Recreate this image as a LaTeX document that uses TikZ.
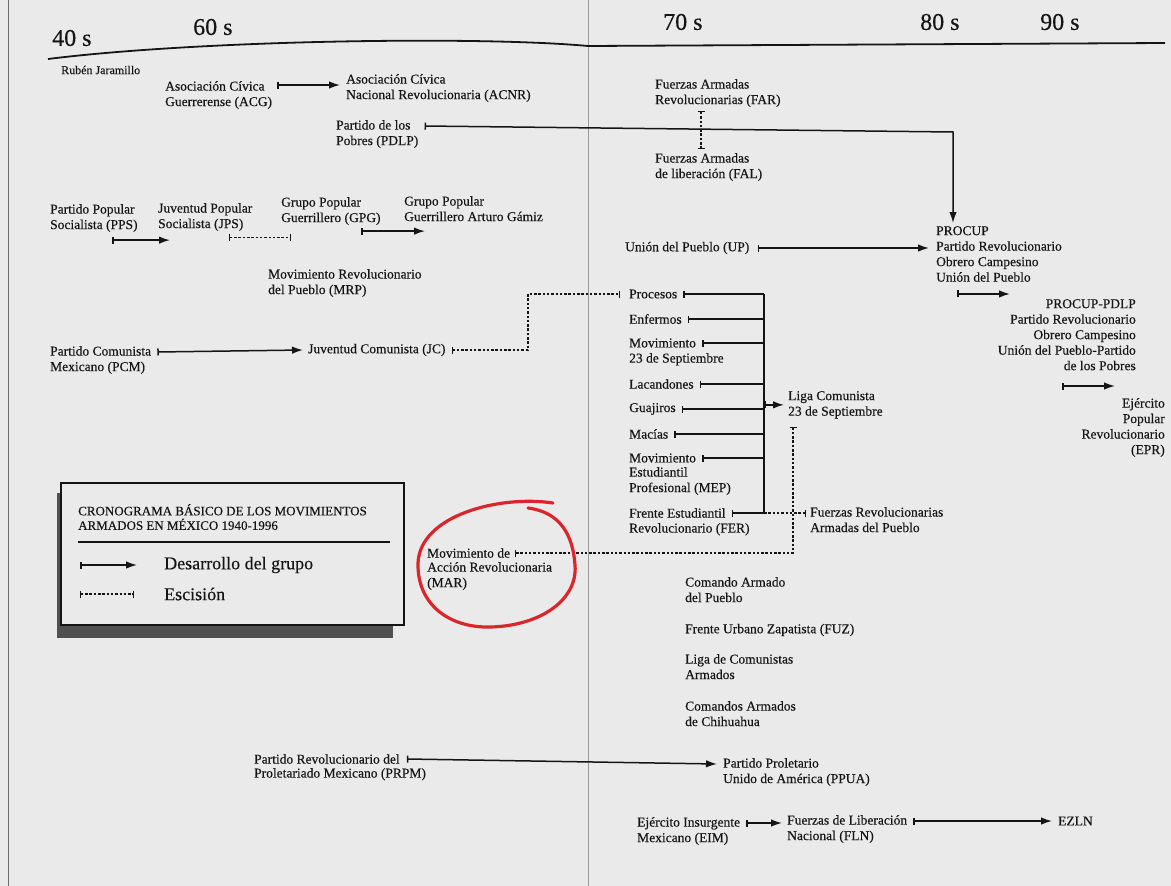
\documentclass[tikz,border=0pt]{standalone}
\usepackage{fontspec}
\setmainfont{Liberation Serif}
\newfontfamily\inkfont{Liberation Serif}[FakeBold=0.35]
\usepackage{xcolor}
\definecolor{ink}{HTML}{151515}
\definecolor{paper}{HTML}{EAEAEA}
\definecolor{foldgray}{HTML}{9A9A9A}
\definecolor{boxshade}{HTML}{505050}
\definecolor{redpen}{HTML}{D9262B}
\usetikzlibrary{arrows.meta,positioning,calc}
\tikzset{
  txt/.style={inner sep=0pt,anchor=north west,align=left,text=ink,font=\inkfont\fontsize{13.5}{15.5}\selectfont},
  rtxt/.style={txt,anchor=north east,align=right},
  one/.style={txt,anchor=west},
  decade/.style={inner sep=0pt,anchor=west,text=ink,font=\inkfont\fontsize{24}{26}\selectfont},
  dev/.style={{Bar[width=7pt]}-{Latex[length=11pt,width=7.5pt]},draw=ink,line width=1.5pt},
  feed/.style={{Bar[width=7pt]}-,draw=ink,line width=1.5pt},
  esc/.style={{Bar[width=7pt]}-{Bar[width=7pt]},draw=ink,line width=1.1pt,dash pattern=on 2.5pt off 1.8pt},
  escend/.style={esc,arrows=-{Bar[width=7pt]}},
}
\begin{document}
\begin{tikzpicture}[x=1pt,y=-1pt]
\useasboundingbox (0,0) rectangle (1171,886);
\fill[fill=paper] (0,0) rectangle (1171,886);
\draw[draw=foldgray,line width=0.8pt] (588,0) -- (588,886);
\draw[draw=foldgray!70!black,line width=0.8pt] (8,0) -- (8,886);
\draw[draw=ink,line width=1.8pt] (48,59) .. controls (200,40) and (480,36) .. (588,46) -- (1165,43);

\node[decade] (d40) at (52,38) {40 s};
\node[decade] (d60) at (193,27) {60 s};
\node[decade] (d70) at (663,22) {70 s};
\node[decade] (d80) at (920,22) {80 s};
\node[decade] (d90) at (1040,22) {90 s};

\node[one,font=\inkfont\fontsize{12}{14}\selectfont] (ruben) at (61,70) {Rubén Jaramillo};
\node[txt] (acg) at (165,81) {Asociación Cívica\\Guerrerense (ACG)};
\node[txt] (acnr) at (346,74) {Asociación Cívica\\Nacional Revolucionaria (ACNR)};
\node[txt] (pdlp) at (336,120) {Partido de los\\Pobres (PDLP)};
\node[txt] (far) at (655,79) {Fuerzas Armadas\\Revolucionarias (FAR)};
\node[txt] (fal) at (655,153) {Fuerzas Armadas\\de liberación (FAL)};

\node[txt] (pps) at (50,204) {Partido Popular\\Socialista (PPS)};
\node[txt] (jps) at (158,203) {Juventud Popular\\Socialista (JPS)};
\node[txt] (gpg) at (281,197) {Grupo Popular\\Guerrillero (GPG)};
\node[txt] (gpgag) at (404,196) {Grupo Popular\\Guerrillero Arturo Gámiz};
\node[txt] (mrp) at (268,269) {Movimiento Revolucionario\\del Pueblo (MRP)};
\node[txt] (pcm) at (50,346) {Partido Comunista\\Mexicano (PCM)};
\node[one] (jc) at (308,350) {Juventud Comunista (JC)};

\node[one] (up) at (625,248) {Unión del Pueblo (UP)};
\node[txt] (procup) at (936,226) {PROCUP\\Partido Revolucionario\\Obrero Campesino\\Unión del Pueblo};
\node[rtxt] (procuppdlp) at (1136,299) {PROCUP-PDLP\\Partido Revolucionario\\Obrero Campesino\\Unión del Pueblo-Partido\\de los Pobres};
\node[rtxt] (epr) at (1165,398) {Ejército\\Popular\\Revolucionario\\(EPR)};

\node[one] (procesos) at (629,294) {Procesos};
\node[one] (enfermos) at (629,319) {Enfermos};
\node[one] (mov23) at (629,343) {Movimiento};
\node[txt] (mov23b) at (629,353) {23 de Septiembre};
\node[one] (lacandones) at (629,384) {Lacandones};
\node[one] (guajiros) at (629,409) {Guajiros};
\node[one] (macias) at (629,434) {Macías};
\node[one] (mep) at (629,458) {Movimiento};
\node[txt] (mepb) at (629,467) {Estudiantil\\Profesional (MEP)};
\node[one] (fer) at (629,513) {Frente Estudiantil};
\node[txt] (ferb) at (629,523) {Revolucionario (FER)};
\node[txt] (liga) at (788,391) {Liga Comunista\\23 de Septiembre};
\node[txt] (frap) at (810,507) {Fuerzas Revolucionarias\\Armadas del Pueblo};

\node[one] (mar) at (427,553) {Movimiento de};
\node[txt] (marb) at (427,562) {Acción Revolucionaria\\(MAR)};

\node[txt] (cap) at (685,577) {Comando Armado\\del Pueblo};
\node[one] (fuz) at (685,630) {Frente Urbano Zapatista (FUZ)};
\node[txt] (lca) at (685,654) {Liga de Comunistas\\Armados};
\node[txt] (cach) at (685,701) {Comandos Armados\\de Chihuahua};

\node[one] (prpm) at (254,759) {Partido Revolucionario del};
\node[txt] (prpmb) at (254,768) {Proletariado Mexicano (PRPM)};
\node[txt] (ppua) at (723,758) {Partido Proletario\\Unido de América (PPUA)};
\node[txt] (eim) at (637,817) {Ejército Insurgente\\Mexicano (EIM)};
\node[txt] (fln) at (787,815) {Fuerzas de Liberación\\Nacional (FLN)};
\node[one] (ezln) at (1058,821) {EZLN};

\coordinate (spine) at (764,294);

\draw[dev] ([shift={(5,4)}]acg.north east) -- ($(acg.north east -| acnr.west)+(-6,4)$);
\draw[dev] ([shift={(6,6)}]pdlp.north east) -- ([shift={(17,-94)}]procup.north west) -- ([shift={(17,-3)}]procup.north west);
\draw[esc] ([shift={(46,4)}]far.south west) -- ([shift={(46,-4)}]fal.north west);
\draw[dev] ([shift={(62,8)}]pps.south west) -- ($(pps.south west -| jps.west)+(12,8)$);
\draw[esc] ([shift={(71,6)}]jps.south west) -- ($(jps.south west -| gpg.west)+(10,6)$);
\draw[dev] ([shift={(80,6)}]gpg.south west) -- ($(gpg.south west -| gpgag.west)+(21,6)$);
\draw[dev] ([shift={(6,6)}]pcm.north east) -- ([xshift=-5pt]jc.west);
\draw[esc] ([xshift=6pt]jc.east) -| ([xshift=-101pt]procesos.west) -- ([xshift=-9pt]procesos.west);
\draw[dev] ([xshift=8pt]up.east) -- ($(up.east -| procup.west)+(-7,0)$);
\draw[dev] ([shift={(21,12)}]procup.south west) -- ([shift={(74,12)}]procup.south west);
\draw[dev] ($(epr.north east)+(-103,-12)$) -- ($(epr.north east)+(-50,-12)$);

\foreach \n in {procesos,enfermos,mov23,lacandones,guajiros,macias,mep,fer}
  \draw[feed] ([xshift=6pt]\n.east) -- (\n.east -| spine);
\draw[draw=ink,line width=1.5pt] (procesos.east -| spine) -- (fer.east -| spine);
\draw[dev] (liga.west -| spine) -- ([xshift=-4pt]liga.west);
\draw[escend] (fer.east -| spine) -- ($(fer.east -| frap.west)+(-4,0)$);
\draw[esc] ([shift={(5,8)}]liga.south west) |- ([xshift=5pt]mar.east);

\draw[dev] ([xshift=7pt]prpm.east) -- ([shift={(-6,6)}]ppua.north west);
\draw[dev] ([shift={(6,6)}]eim.north east) -- ($(eim.north east -| fln.west)+(-5,6)$);
\draw[dev] ([shift={(6,6)}]fln.north east) -- ([xshift=-6pt]ezln.west);

\fill[fill=boxshade] (57,493) rectangle (393,638);
\draw[draw=ink,fill=paper,line width=1.5pt] (61,483) rectangle (404,625);
\node[txt,font=\inkfont\fontsize{13}{14.5}\selectfont] (ttl) at (78,504) {CRONOGRAMA BÁSICO DE LOS MOVIMIENTOS\\ARMADOS EN MÉXICO 1940-1996};
\draw[draw=ink,line width=1.8pt] (78,542) -- (390,542);
\node[one,font=\inkfont\fontsize{18}{20}\selectfont] (devkey) at (164,565) {Desarrollo del grupo};
\node[one,font=\inkfont\fontsize{18}{20}\selectfont] (esckey) at (164,594) {Escisión};
\draw[dev] ([xshift=-84pt]devkey.west) -- ([xshift=-27pt]devkey.west);
\draw[esc] ([xshift=-84pt]esckey.west) -- ([xshift=-30pt]esckey.west);

\draw[draw=redpen,line width=3.2pt,line cap=round] (553,503) .. controls (500,495) and (420,515) .. (418,563) .. controls (417,605) and (450,628) .. (490,627) .. controls (540,626) and (578,600) .. (575,565) .. controls (573,535) and (560,512) .. (528,508);
\end{tikzpicture}
\end{document}
